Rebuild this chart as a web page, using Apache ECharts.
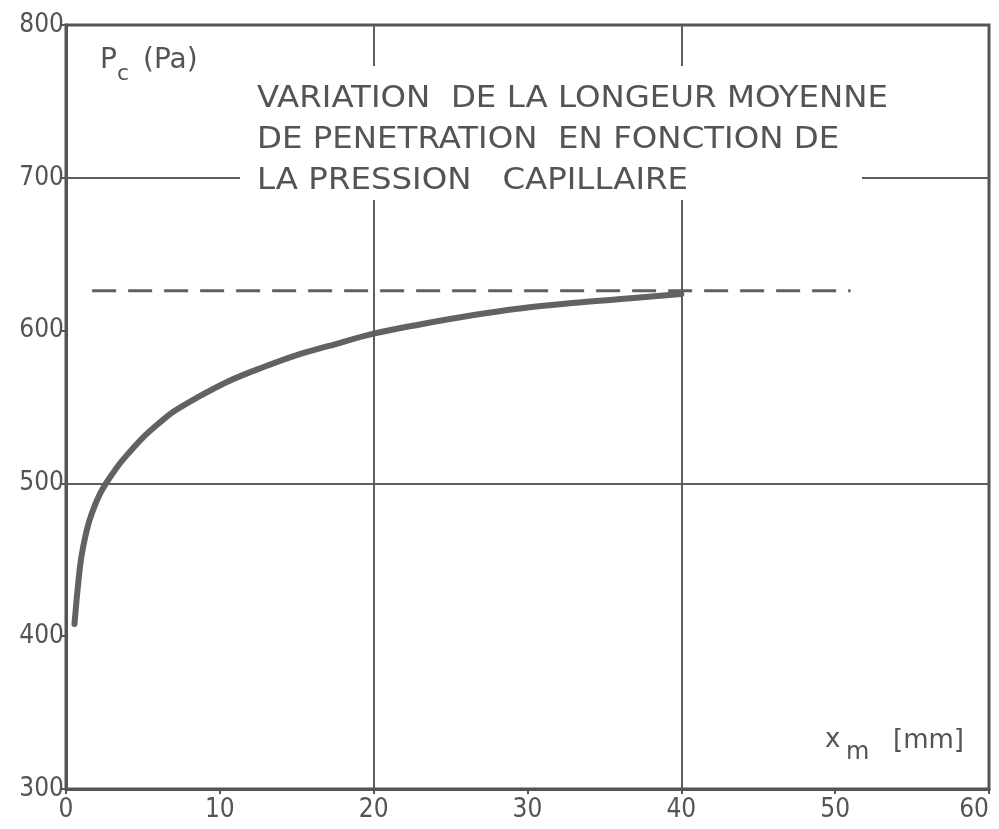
<!DOCTYPE html>
<html>
<head>
<meta charset="utf-8">
<script src="https://cdn.jsdelivr.net/npm/echarts@6/dist/echarts.min.js"></script>
<style>html,body{margin:0;padding:0;background:#fff;}#c{width:999px;height:829px;}</style>
</head>
<body>
<div id="c"></div>
<script>
// Data
const xTicks = [0, 10, 20, 30, 40, 50, 60];
const yTicks = [300, 400, 500, 600, 700, 800];
const curveX = [0.55, 0.7, 0.85, 1.0, 1.25, 1.5, 1.85, 2.2, 2.6, 3.0, 3.5, 4.0, 5.0, 6.0, 7.0, 8.5, 10.6, 12.8, 15.0, 17.1, 20.0, 23.0, 26.4, 29.5, 32.9, 36.5, 40.0];
const curveY = [408, 425, 440, 452, 465, 475, 485, 493, 500, 506, 513, 519, 530, 539, 547, 556, 567, 576, 584, 590, 598, 604, 610, 614.5, 618, 621, 624];
const asymptoteX = [1.7, 51.0];
const asymptoteY = [626, 626];
const gridXValues = [20, 40];
const gridYValues = [500, 700];
const titleLines = ['VARIATION  DE LA LONGEUR MOYENNE', 'DE PENETRATION  EN FONCTION DE', 'LA PRESSION   CAPILLAIRE'];

const INK = '#545454';
const TICKFONT = "'Liberation Sans Narrow', 'DejaVu Sans Condensed', 'DejaVu Sans', sans-serif";

// measure title to stretch its first line to the reference width
const cv = document.createElement('canvas').getContext('2d');
cv.font = "30px 'DejaVu Sans'";
const titleW = cv.measureText(titleLines[0]).width;
const titleScale = 631 / titleW;

const chart = echarts.init(document.getElementById('c'));
const curve = curveX.map((x, i) => [x, curveY[i]]);
const asym = asymptoteX.map((x, i) => [x, asymptoteY[i]]);

const titleTops = [84, 125, 166];

chart.setOption({
  backgroundColor: '#fff',
  animation: false,
  grid: { left: 66, right: 10, top: 25, bottom: 40, show: true, borderColor: INK, borderWidth: 3, backgroundColor: 'transparent', outerBoundsMode: 'none', containLabel: false },
  xAxis: {
    type: 'value', min: xTicks[0], max: xTicks[xTicks.length - 1], interval: 10,
    axisLine: { lineStyle: { color: INK, width: 3 } },
    axisTick: { show: true, length: 5, lineStyle: { color: INK, width: 2 } },
    splitLine: { show: false },
    axisLabel: { color: INK, fontFamily: TICKFONT, fontSize: 26, margin: 8, alignMaxLabel: 'right' }
  },
  yAxis: {
    type: 'value', min: yTicks[0], max: yTicks[yTicks.length - 1], interval: 100,
    axisLine: { show: true, lineStyle: { color: INK, width: 3 } },
    axisTick: { show: true, length: 4, lineStyle: { color: INK, width: 2 } },
    splitLine: { show: false },
    axisLabel: { color: INK, fontFamily: TICKFONT, fontSize: 26, margin: 2 }
  },
  series: [
    {
      type: 'line', data: [], silent: true,
      markLine: {
        silent: true, symbol: 'none', label: { show: false },
        lineStyle: { color: '#5e5e5e', width: 2, type: 'solid' },
        data: gridXValues.map(v => ({ xAxis: v })).concat(gridYValues.map(v => ({ yAxis: v })))
      }
    },
    {
      type: 'line', data: asym, showSymbol: false, symbol: 'none', silent: true,
      lineStyle: { color: '#606060', width: 3, type: [24, 12] }, z: 3
    },
    {
      type: 'line', data: curve, smooth: 0.35, showSymbol: false, symbol: 'none', silent: true,
      lineStyle: { color: '#626262', width: 6, cap: 'round', join: 'round' }, z: 4
    }
  ],
  graphic: [
    { type: 'rect', z: 9, shape: { x: 240, y: 66, width: 622, height: 134 }, style: { fill: '#fff' } }
  ].concat(titleLines.map((t, i) => ({
    type: 'text', x: 257, y: titleTops[i], scaleX: titleScale, z: 10,
    style: { text: t, fill: INK, font: "30px 'DejaVu Sans'", textBaseline: 'top' }
  }))).concat([
    { type: 'text', x: 100, y: 47, z: 10, style: { text: 'P', fill: INK, font: "28px 'DejaVu Sans'", textBaseline: 'top' } },
    { type: 'text', x: 117, y: 63, z: 10, style: { text: 'c', fill: INK, font: "22px 'DejaVu Sans'", textBaseline: 'top' } },
    { type: 'text', x: 143, y: 47, z: 10, style: { text: '(Pa)', fill: INK, font: "28px 'DejaVu Sans'", textBaseline: 'top' } },
    { type: 'text', x: 825, y: 727, z: 10, style: { text: 'x', fill: INK, font: "26px 'DejaVu Sans'", textBaseline: 'top' } },
    { type: 'text', x: 846, y: 741, z: 10, style: { text: 'm', fill: INK, font: "24px 'DejaVu Sans'", textBaseline: 'top' } },
    { type: 'text', x: 893, y: 728, z: 10, style: { text: '[mm]', fill: INK, font: "26px 'DejaVu Sans'", textBaseline: 'top' } }
  ])
});
</script>
</body>
</html>
